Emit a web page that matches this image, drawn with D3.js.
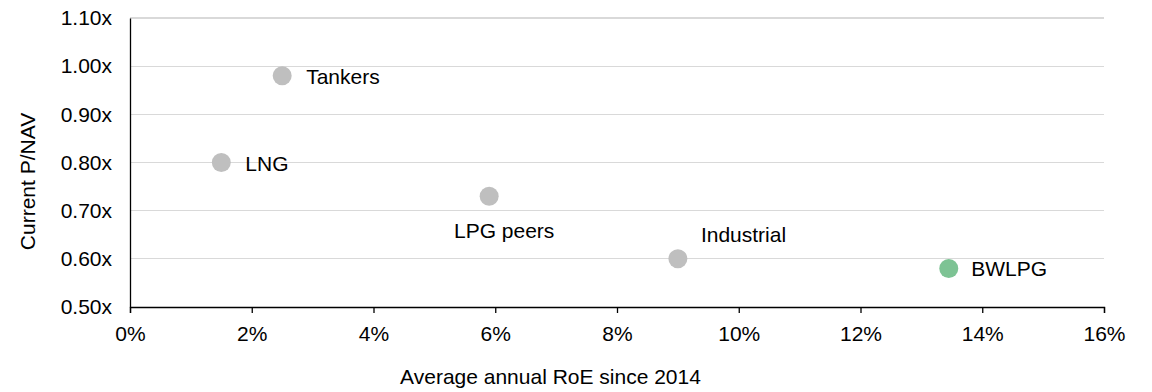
<!DOCTYPE html>
<html>
<head>
<meta charset="utf-8">
<script src="https://cdn.jsdelivr.net/npm/d3@7"></script>
<style>
  html, body { margin: 0; padding: 0; background: #fff; }
  svg { display: block; font-family: "Liberation Sans", Arial, sans-serif; }
</style>
</head>
<body>
<svg id="chart" width="1152" height="392"></svg>
<script>
// Data
const names = ["Tankers", "LNG", "LPG peers", "Industrial", "BWLPG"];
const roe = [0.025, 0.015, 0.059, 0.090, 0.1345];
const pnav = [0.98, 0.80, 0.73, 0.60, 0.58];
const highlight = ["BWLPG"];
const xTicks = [0, 0.02, 0.04, 0.06, 0.08, 0.10, 0.12, 0.14, 0.16];
const yTicks = [0.5, 0.6, 0.7, 0.8, 0.9, 1.0, 1.1];
const xTitle = "Average annual RoE since 2014";
const yTitle = "Current P/NAV";

// Layout
const W = 1152, H = 392;
const m = { left: 130, right: 48, top: 18, bottom: 85 };
const fs = 21;
const labelOffsets = {
  "Tankers":   { dx: 24, dy: 8.5, anchor: "start" },
  "LNG":       { dx: 24, dy: 8, anchor: "start" },
  "LPG peers": { dx: 15, dy: 42, anchor: "middle" },
  "Industrial":{ dx: 23, dy: -16.5, anchor: "start" },
  "BWLPG":     { dx: 22.5, dy: 8, anchor: "start" }
};

const svg = d3.select("#chart");
const x = d3.scaleLinear().domain([0, 0.16]).range([m.left, W - m.right]);
const y = d3.scaleLinear().domain([0.5, 1.1]).range([H - m.bottom, m.top]);

// gridlines
svg.append("g")
  .selectAll("line")
  .data(yTicks.filter(d => d > 0.5))
  .join("line")
  .attr("x1", x(0)).attr("x2", x(0.16))
  .attr("y1", d => y(d)).attr("y2", d => y(d))
  .attr("stroke", "#d9d9d9").attr("stroke-width", 1.3)
  .attr("shape-rendering", "crispEdges");

// x axis
const xAxis = d3.axisBottom(x).tickValues(xTicks).tickFormat(d3.format(".0%"))
  .tickSize(6).tickPadding(13);
const gx = svg.append("g").attr("transform", `translate(0,${y(0.5)})`).call(xAxis);
gx.select(".domain").attr("stroke", "#000").attr("stroke-width", 1.3);
gx.selectAll(".tick line").attr("stroke", "#000").attr("stroke-width", 1.3);
gx.selectAll("text").attr("font-size", fs).attr("fill", "#000")
  .attr("font-family", "Liberation Sans, Arial, sans-serif");

// y axis
const yAxis = d3.axisLeft(y).tickValues(yTicks).tickFormat(d => d3.format(".2f")(d) + "x")
  .tickSize(0).tickPadding(18);
const gy = svg.append("g").attr("transform", `translate(${x(0)},0)`).call(yAxis);
gy.select(".domain").attr("stroke", "#000").attr("stroke-width", 1.3);
gy.selectAll("text").attr("font-size", fs).attr("fill", "#000")
  .attr("font-family", "Liberation Sans, Arial, sans-serif");

// points
const data = names.map((n, i) => ({ name: n, x: roe[i], y: pnav[i] }));
svg.append("g").selectAll("circle")
  .data(data).join("circle")
  .attr("cx", d => x(d.x)).attr("cy", d => y(d.y)).attr("r", 9.5)
  .attr("fill", d => highlight.includes(d.name) ? "#7dc394" : "#bfbfbf");

// labels
svg.append("g").selectAll("text")
  .data(data).join("text")
  .attr("x", d => x(d.x) + labelOffsets[d.name].dx)
  .attr("y", d => y(d.y) + labelOffsets[d.name].dy)
  .attr("text-anchor", d => labelOffsets[d.name].anchor)
  .attr("font-size", fs).attr("fill", "#000")
  .text(d => d.name);

// axis titles
svg.append("text")
  .attr("x", 550.5).attr("y", 384)
  .attr("text-anchor", "middle").attr("font-size", fs).attr("fill", "#000")
  .text(xTitle);
svg.append("text")
  .attr("transform", `translate(35,${181.5}) rotate(-90)`)
  .attr("text-anchor", "middle").attr("font-size", fs).attr("fill", "#000")
  .text(yTitle);
</script>
</body>
</html>
